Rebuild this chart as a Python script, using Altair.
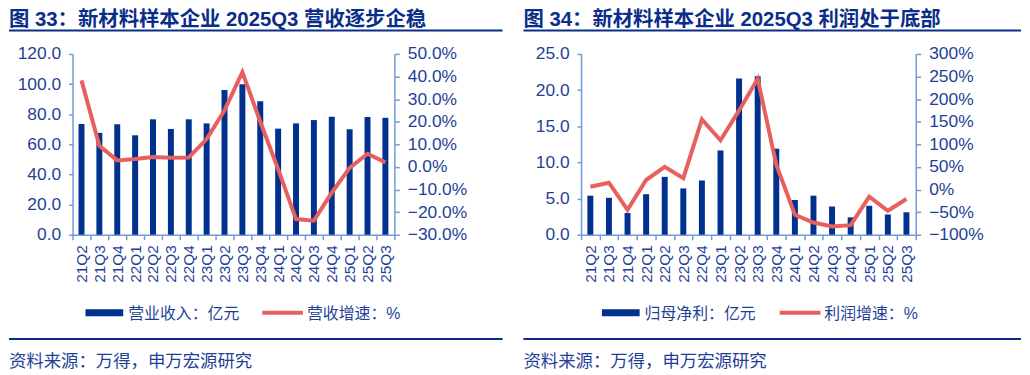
import altair as alt
import pandas as pd

quarters = ["21Q2", "21Q3", "21Q4", "22Q1", "22Q2", "22Q3", "22Q4", "23Q1", "23Q2",
            "23Q3", "23Q4", "24Q1", "24Q2", "24Q3", "24Q4", "25Q1", "25Q2", "25Q3"]
revenue = [73.5, 67.6, 73.3, 66.0, 76.6, 70.2, 76.6, 73.9, 96.0,
           99.8, 88.6, 70.4, 73.9, 76.1, 78.3, 70.0, 78.1, 77.6]
rev_growth = [38.3, 9.3, 2.9, 3.5, 4.4, 4.1, 4.2, 12.3, 25.1,
              41.9, 20.0, -1.0, -23.1, -23.8, -11.4, -0.4, 5.8, 2.0]
profit = [5.4, 5.1, 3.0, 5.6, 8.0, 6.4, 7.5, 11.65, 21.6,
          21.9, 11.9, 4.8, 5.4, 3.9, 2.4, 4.0, 2.8, 3.1]
profit_growth = [6, 15, -45, 21, 50, 25, 155, 109, 175,
                 245, 55, -56, -73, -82, -79, -16, -47, -21]

title_left = "图 33：新材料样本企业 2025Q3 营收逐步企稳"
title_right = "图 34：新材料样本企业 2025Q3 利润处于底部"
legend_left = ["营业收入：亿元", "营收增速：%"]
legend_right = ["归母净利：亿元", "利润增速：%"]
source_text = "资料来源：万得，申万宏源研究"

BAR = "#00318f"
RED = "#e8605d"
AXIS = "#6f9bd6"
TEXT = "#1f3f97"
TITLE = "#0a2d8a"
FONT = "Liberation Sans, Noto Sans CJK SC"

one = pd.DataFrame({"k": [0]})


def txt(s, x, y, size, color, weight="normal", baseline="middle"):
    return alt.Chart(one).mark_text(
        text=s, align="left", baseline=baseline, fontSize=size, font=FONT,
        color=color, fontWeight=weight
    ).encode(x=alt.value(x), y=alt.value(y))


def hrule(x1, x2, y, color, w):
    return alt.Chart(one).mark_rule(color=color, strokeWidth=w).encode(
        x=alt.value(x1), x2=alt.value(x2), y=alt.value(y))


def rect(x1, x2, y1, y2, color):
    return alt.Chart(one).mark_rect(color=color).encode(
        x=alt.value(x1), x2=alt.value(x2), y=alt.value(y1), y2=alt.value(y2))


def panel(bar_vals, line_vals, width, y1_dom, y1_vals, y1_expr, y2_dom, y2_vals, y2_expr,
          title, legend, left, right, leg):
    df = pd.DataFrame({"q": quarters, "bar": bar_vals, "line": line_vals})
    base = alt.Chart(df)
    x = alt.X("q:N", sort=quarters, title=None,
              scale=alt.Scale(paddingInner=0, paddingOuter=0),
              axis=alt.Axis(labelAngle=270, tickBand="extent", tickSize=5,
                            labelPadding=5, labelFontSize=15.5))
    bars = base.mark_bar(size=6, color=BAR).encode(
        x=x,
        y=alt.Y("bar:Q", title=None, scale=alt.Scale(domain=y1_dom, nice=False, zero=False),
                axis=alt.Axis(orient="left", values=y1_vals, labelExpr=y1_expr,
                              tickSize=4, labelPadding=8)))
    line = base.mark_line(color=RED, strokeWidth=4).encode(
        x=x,
        y=alt.Y("line:Q", title=None, scale=alt.Scale(domain=y2_dom, nice=False, zero=False),
                axis=alt.Axis(orient="right", values=y2_vals, labelExpr=y2_expr,
                              tickSize=5, labelPadding=8)))
    deco = [
        txt(title, left, -28.5, 20.5, TITLE, weight="bold", baseline="alphabetic"),
        hrule(left, right, -23.5, TITLE, 2),
        rect(leg[0], leg[0] + 38, 257, 264, BAR),
        txt(legend[0], leg[0] + 43, 261.5, 16, TEXT),
        hrule(leg[1], leg[1] + 41, 260.5, RED, 4),
        txt(legend[1], leg[1] + 45, 261.5, 16, TEXT),
        hrule(left, right, 287, TITLE, 2),
        txt(source_text, left, 310, 17.5, TEXT),
    ]
    return alt.layer(bars, line, *deco).resolve_scale(y="independent").properties(
        width=width, height=182)


left_panel = panel(
    revenue, rev_growth, 324,
    [0, 120], [0, 20, 40, 60, 80, 100, 120], "format(datum.value, '.1f')",
    [-30, 50], [-30, -20, -10, 0, 10, 20, 30, 40, 50], "format(datum.value, '.1f') + '%'",
    title_left, legend_left, -64, 433, (13, 191))

right_panel = panel(
    profit, profit_growth, 337,
    [0, 25], [0, 5, 10, 15, 20, 25], "format(datum.value, '.1f')",
    [-100, 300], [-100, -50, 0, 50, 100, 150, 200, 250, 300], "format(datum.value, '.0f') + '%'",
    title_right, legend_right, -58, 443, (21, 200))

chart = alt.hconcat(left_panel, right_panel, spacing=19).properties(
    padding={"left": 0, "top": 0, "right": 0, "bottom": 0}
).configure_view(stroke=None).configure_axis(
    labelFont=FONT, labelFontSize=17.5, labelColor=TEXT,
    domainColor=AXIS, tickColor=AXIS, domainWidth=1.5, tickWidth=1.5, grid=False
)

chart.save("out.html", embed_options={"renderer": "svg", "actions": False})
